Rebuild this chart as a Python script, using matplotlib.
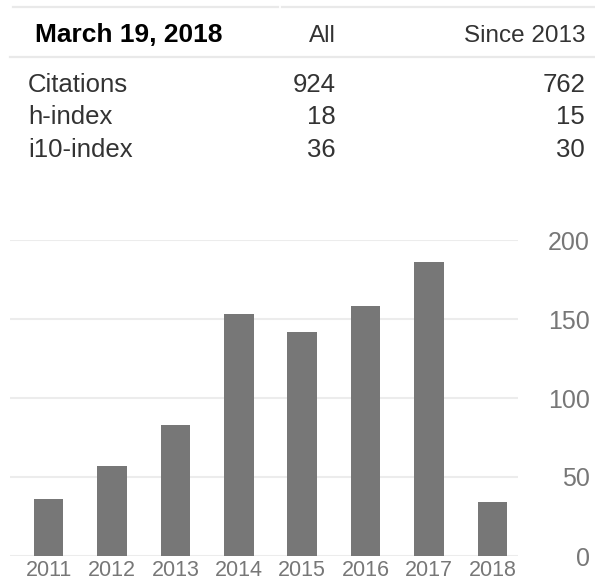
import matplotlib
matplotlib.use("Agg")
import matplotlib.pyplot as plt
from matplotlib.lines import Line2D

matplotlib.rcParams['font.family'] = ['Liberation Sans', 'DejaVu Sans']

# 표 데이터
header_date = "March 19, 2018"
col_names = ["All", "Since 2013"]
row_names = ["Citations", "h-index", "i10-index"]
all_vals = [924, 18, 36]
since_vals = [762, 15, 30]

# 막대 데이터 (연도별 인용수)
years = ["2011", "2012", "2013", "2014", "2015", "2016", "2017", "2018"]
cites = [36, 57, 83, 153, 142, 158, 186, 34]
yticks = [0, 50, 100, 150, 200]

W, H = 595, 580
fig = plt.figure(figsize=(W / 100, H / 100), dpi=100)

def fy(py):
    return 1 - py / H

# 표 윗줄 / 아랫줄
line_c = '#e9e9e9'
fig.add_artist(Line2D([13 / W, 278 / W], [fy(7), fy(7)], color=line_c, lw=1.6))
fig.add_artist(Line2D([282 / W, 1], [fy(7), fy(7)], color=line_c, lw=1.6))
fig.add_artist(Line2D([10 / W, 1], [fy(56.5), fy(56.5)], color=line_c, lw=1.6))

# 헤더
fig.text(35 / W, fy(41.7), header_date, fontsize=19, fontweight='bold',
         color='black', va='baseline', ha='left')
fig.text(336 / W, fy(41.7), col_names[0], fontsize=17.5, color='#333333',
         va='baseline', ha='right')
fig.text(585 / W, fy(41.7), col_names[1], fontsize=17.5, color='#333333',
         va='baseline', ha='right')

# 표 내용
row_y = [91.7, 124.5, 157]
for idx, name in enumerate(row_names):
    fig.text(28 / W, fy(row_y[idx]), name, fontsize=18.5, color='#333333',
             va='baseline', ha='left')
    fig.text(336 / W, fy(row_y[idx]), str(all_vals[idx]), fontsize=18.5,
             color='#333333', va='baseline', ha='right')
    fig.text(585 / W, fy(row_y[idx]), str(since_vals[idx]), fontsize=18.5,
             color='#333333', va='baseline', ha='right')

# 막대 그래프
ax = fig.add_axes([10 / W, 1 - 556 / H, (517.7 - 10) / W, (556 - 240) / H])
x = list(range(len(years)))
ax.bar(x, cites, width=0.465, color='#777777', zorder=3)
ax.set_xlim(-0.61, 7.40)
ax.set_ylim(0, 200)
ax.set_yticks(yticks)
ax.yaxis.grid(True, color='#ececec', lw=1.5, zorder=0)
ax.set_xticks(x)
ax.set_xticklabels(years)
for s in ax.spines.values():
    s.set_visible(False)
ax.tick_params(axis='x', length=0, pad=3, labelsize=15.5, labelcolor='#777777')
ax.tick_params(axis='y', length=0, left=False, labelleft=False, right=True,
               labelright=True, pad=52, labelsize=18, labelcolor='#777777')
for lab in ax.get_yticklabels():
    lab.set_horizontalalignment('right')

plt.savefig('out.png', dpi=100)
